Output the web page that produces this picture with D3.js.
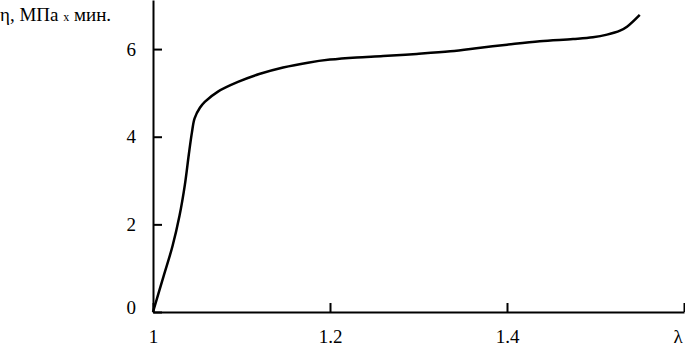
<!DOCTYPE html>
<html lang="ru">
<head>
  <meta charset="UTF-8">
  <title>η от λ</title>
  <script src="https://d3js.org/d3.v7.min.js"></script>
  <style>
    body {
      margin: 0;
      background: #fff;
    }
    svg text {
      font-family: "Liberation Serif", Tinos, "Times New Roman", Times, "Noto Serif", "DejaVu Serif", serif !important;
    }
  </style>
</head>
<body>
  <div id="chart"></div>

  <script>
    // кривая вязкости от степени вытяжки
    const lambda = [1.000, 1.012, 1.022, 1.030, 1.036, 1.0405, 1.044, 1.047, 1.053, 1.0588,
                    1.0734, 1.096, 1.12, 1.147, 1.175, 1.2, 1.23, 1.26, 1.298, 1.336,
                    1.37, 1.4, 1.437, 1.4746, 1.497, 1.513, 1.5277, 1.5356, 1.550];
    const eta = [0, 0.82, 1.5, 2.2, 2.9, 3.6, 4.1, 4.42, 4.66, 4.80,
                 5.03, 5.25, 5.43, 5.58, 5.69, 5.76, 5.81, 5.84, 5.89, 5.95,
                 6.03, 6.10, 6.18, 6.23, 6.27, 6.33, 6.42, 6.51, 6.78];
    const xTicks = [1, 1.2, 1.4, 1.6];
    const xTickLabels = ["1", "1.2", "1.4", ""];
    const yTicks = [0, 2, 4, 6];

    const width = 685;
    const height = 347;
    const margin = { top: 0, right: 1, bottom: 35, left: 153 };

    const x = d3.scaleLinear()
      .domain([1, 1.6])
      .range([margin.left, width - margin.right]);

    const y = d3.scaleLinear()
      .domain([0, 7.12])
      .range([height - margin.bottom, margin.top]);

    const svg = d3.select("#chart").append("svg")
      .attr("width", width)
      .attr("height", height);

    const xAxis = svg.append("g")
      .attr("transform", `translate(0,${y(0)})`)
      .call(d3.axisBottom(x)
        .tickValues(xTicks)
        .tickFormat((d, i) => xTickLabels[i])
        .tickSizeInner(-9)
        .tickSizeOuter(0)
        .tickPadding(18));

    const yAxis = svg.append("g")
      .attr("transform", `translate(${x(1)},0)`)
      .call(d3.axisLeft(y)
        .tickValues(yTicks)
        .tickFormat(d3.format("d"))
        .tickSizeInner(-9)
        .tickSizeOuter(0)
        .tickPadding(17));

    [xAxis, yAxis].forEach(g => {
      g.attr("font-size", 19);
      g.select(".domain").attr("stroke-width", 2);
      g.selectAll(".tick line").attr("stroke-width", 2);
      g.selectAll(".tick text").attr("fill", "#000");
    });
    // подпись нуля чуть выше оси
    yAxis.selectAll(".tick text").filter(d => d === 0).attr("dy", "0.1em");

    const line = d3.line()
      .x(d => x(d[0]))
      .y(d => y(d[1]))
      .curve(d3.curveCatmullRom.alpha(0.5));

    svg.append("path")
      .datum(lambda.map((v, i) => [v, eta[i]]))
      .attr("fill", "none")
      .attr("stroke", "#000")
      .attr("stroke-width", 2.5)
      .attr("d", line);

    // подписи осей
    const yLabel = svg.append("text")
      .attr("x", 0)
      .attr("y", 21)
      .attr("font-size", 19);
    yLabel.append("tspan").text("η, МПа ");
    yLabel.append("tspan").attr("font-size", 12).text("x");
    yLabel.append("tspan").text(" мин.");

    svg.append("text")
      .attr("x", x(1.6) - 6)
      .attr("y", 343)
      .attr("text-anchor", "middle")
      .attr("font-size", 19)
      .text("λ");
  </script>
</body>
</html>
